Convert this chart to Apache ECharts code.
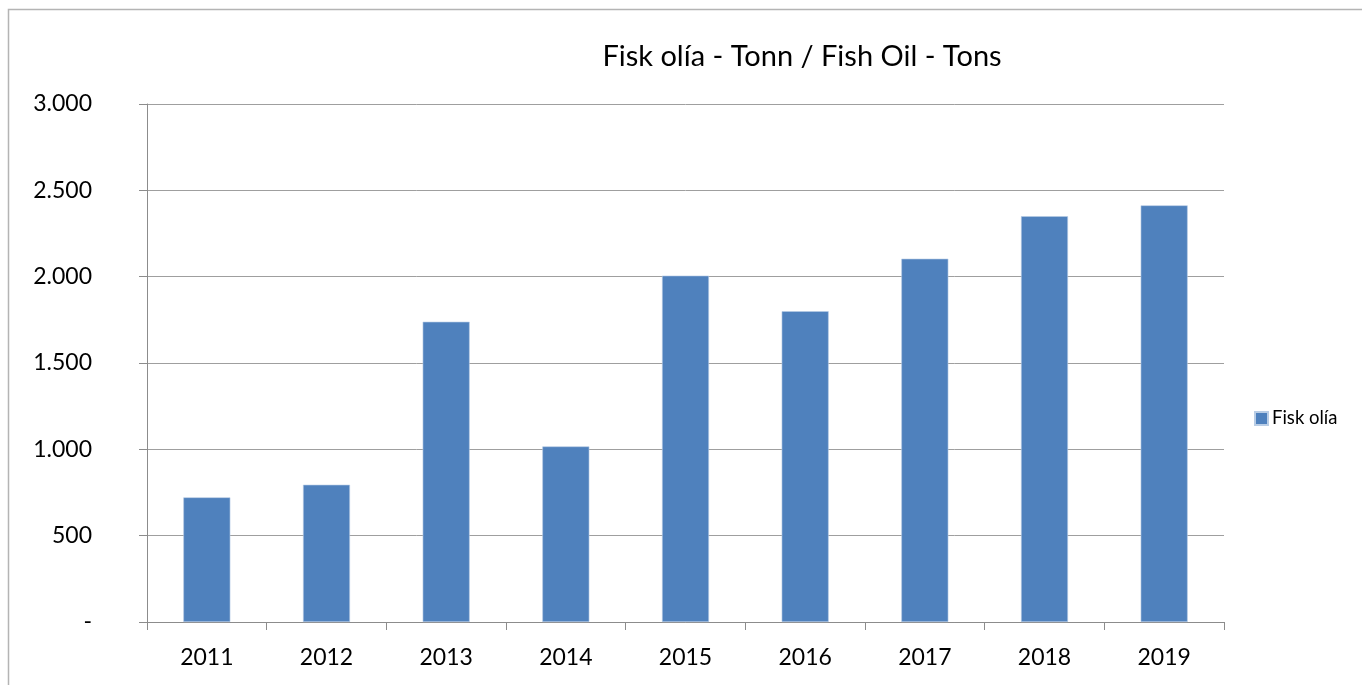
<!DOCTYPE html>
<html>
<head>
<meta charset="utf-8">
<script src="https://cdn.jsdelivr.net/npm/echarts@6/dist/echarts.min.js"></script>
<style>
  html, body { margin: 0; padding: 0; background: #fff; }
  #chart { width: 1362px; height: 685px; }
</style>
</head>
<body>
<div id="chart"></div>
<script>
// data
const years = ['2011', '2012', '2013', '2014', '2015', '2016', '2017', '2018', '2019']
const fiskOlia = [722, 795, 1739, 1017, 2006, 1800, 2104, 2350, 2413]
const seriesName = 'Fisk olía'
const titleText = 'Fisk olía - Tonn / Fish Oil - Tons'

const font = 'Lato, "Open Sans", sans-serif'

const myChart = echarts.init(document.getElementById('chart'))

// 3000 -> "3.000", 0 -> "-"
function fmt (v) {
    if (v === 0) return '-'
    return String(v).replace(/\B(?=(\d{3})+(?!\d))/g, '.')
}

const option = {
    animation: false,
    textStyle: { fontFamily: font },
    title: {
        text: titleText,
        left: 797,
        textAlign: 'center',
        top: 37,
        textStyle: { fontSize: 29, fontWeight: 'normal', color: '#000', fontFamily: font }
    },
    legend: {
        data: [seriesName],
        left: 1249,
        top: 404,
        itemWidth: 13,
        itemHeight: 13,
        itemGap: 6,
        icon: 'rect',
        textStyle: { fontSize: 18.5, color: '#000', fontFamily: font, padding: [0, 0, 0, -1] }
    },
    graphic: [
        {
            // outer chart frame (cut off at the right and bottom)
            type: 'rect',
            shape: { x: 8.5, y: 9.5, width: 1400, height: 720 },
            style: { fill: 'none', stroke: '#b4b4b4', lineWidth: 1.5 },
            silent: true
        }
    ],
    grid: {
        left: 147,
        right: 138,
        top: 104,
        bottom: 63
    },
    xAxis: {
        type: 'category',
        data: years,
        axisLine: { lineStyle: { color: '#8c8c8c', width: 1 } },
        axisTick: { show: true, length: 8, alignWithLabel: false, lineStyle: { color: '#8c8c8c' } },
        axisLabel: { fontSize: 23, color: '#000', margin: 24, fontFamily: font }
    },
    yAxis: {
        type: 'value',
        min: 0,
        max: 3000,
        interval: 500,
        axisLine: { show: true, lineStyle: { color: '#8c8c8c', width: 1 } },
        axisTick: { show: true, length: 8, lineStyle: { color: '#8c8c8c' } },
        splitLine: { show: true, lineStyle: { color: '#9f9f9f', width: 1 } },
        axisLabel: {
            fontSize: 23,
            color: '#000',
            margin: 55,
            align: 'right',
            fontFamily: font,
            formatter: fmt
        }
    },
    series: [
        {
            name: seriesName,
            type: 'bar',
            data: fiskOlia,
            barWidth: 47,
            itemStyle: {
                color: '#4f81bd',
                borderColor: '#b9cde5',
                borderWidth: 0.6
            }
        }
    ]
}

myChart.setOption(option)
</script>
</body>
</html>
